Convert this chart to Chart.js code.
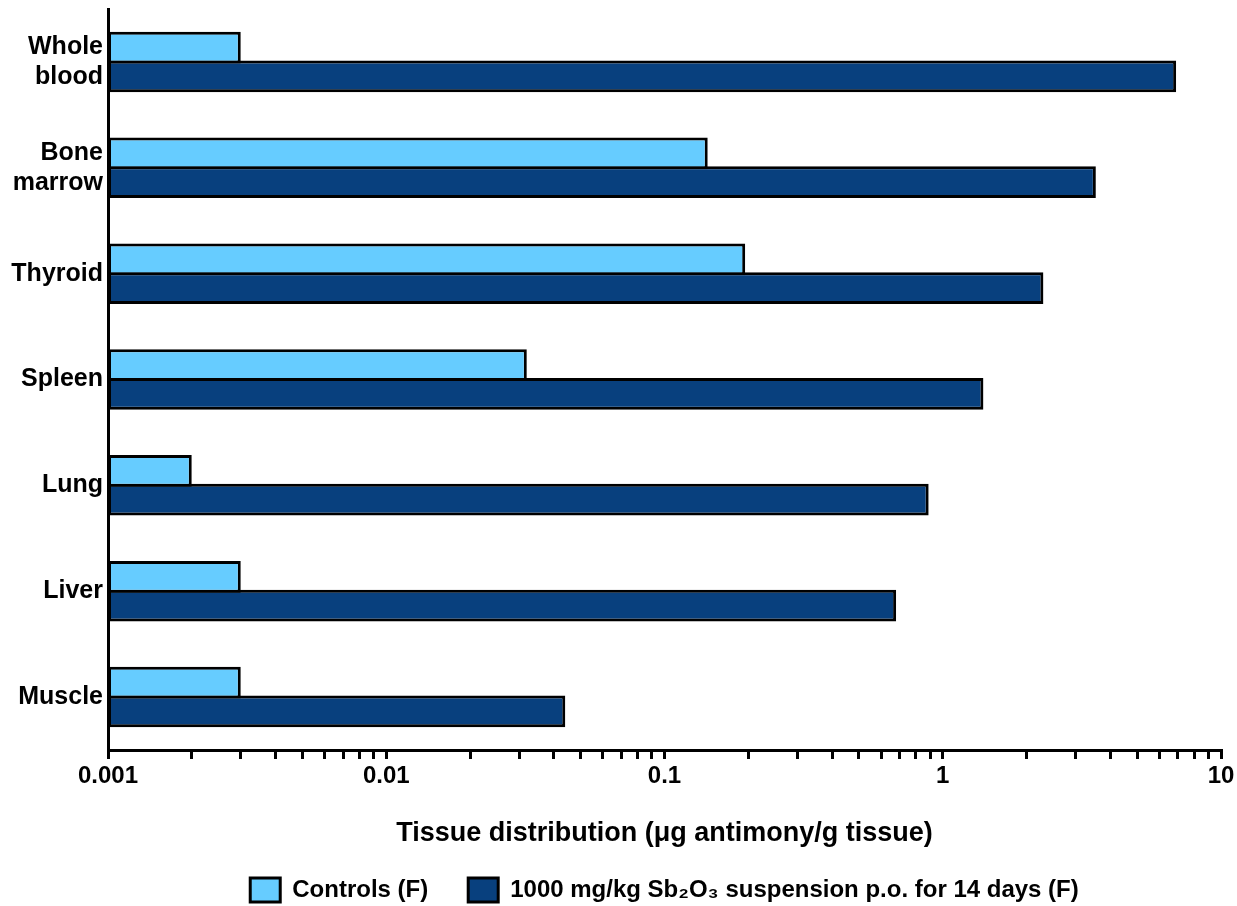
<!DOCTYPE html>
<html>
<head>
<meta charset="utf-8">
<script src="https://cdn.jsdelivr.net/npm/chart.js@4.4.1/dist/chart.umd.min.js"></script>
<style>
  body { margin: 0; background: #fff; }
  #wrap { width: 1237px; height: 906px; }
</style>
</head>
<body>
<div id="wrap"><canvas id="chart" width="1237" height="906"></canvas></div>
<script>
const tissues = [["Whole", "blood"], ["Bone", "marrow"], "Thyroid", "Spleen", "Lung", "Liver", "Muscle"];
const controls = [0.003, 0.143, 0.195, 0.032, 0.002, 0.003, 0.003];
const treated = [6.9, 3.55, 2.3, 1.4, 0.89, 0.68, 0.044];
const seriesNames = ["Controls (F)", "1000 mg/kg Sb\u2082O\u2083 suspension p.o. for 14 days (F)"];
const decadeValues = [0.001, 0.01, 0.1, 1, 10];
const decadeLabels = ["0.001", "0.01", "0.1", "1", "10"];
const axisTitle = "Tissue distribution (\u03bcg antimony/g tissue)";

// tick marks at 1..9 of every decade, labels only on the decades
const tickValues = [];
decadeValues.forEach((d, i) => {
  if (i === decadeValues.length - 1) {
    tickValues.push(d);
    return;
  }
  for (let k = 1; k <= 9; k++) tickValues.push(Number((d * k).toPrecision(6)));
});

Chart.defaults.font.family = "'Liberation Sans', Arial, sans-serif";
Chart.defaults.font.weight = "bold";
Chart.defaults.color = "#000";

const ctx = document.getElementById("chart").getContext("2d");
new Chart(ctx, {
  type: "bar",
  data: {
    labels: tissues,
    datasets: [
      {
        label: seriesNames[0],
        data: controls,
        backgroundColor: "#66CCFF",
        borderColor: "#000",
        borderWidth: 3,
        borderSkipped: false,
      },
      {
        label: seriesNames[1],
        data: treated,
        backgroundColor: "#08407E",
        borderColor: "#000",
        borderWidth: 3,
        borderSkipped: false,
      },
    ],
  },
  options: {
    indexAxis: "y",
    responsive: false,
    animation: false,
    categoryPercentage: 0.543,
    barPercentage: 1.104,
    layout: { padding: { left: 6, right: 16, top: 9, bottom: -6 } },
    plugins: {
      tooltip: { enabled: false },
      legend: {
        position: "bottom",
        fullSize: false,
        labels: {
          boxWidth: 30,
          boxHeight: 24,
          padding: 40,
          font: { size: 24, weight: "bold" },
          color: "#000",
        },
      },
    },
    scales: {
      x: {
        type: "logarithmic",
        min: 0.001,
        max: 10,
        afterBuildTicks: (scale) => {
          scale.ticks = tickValues.map((v) => ({ value: v }));
        },
        afterFit: (scale) => {
          scale.height = 88;
          scale.paddingLeft = 0;
          scale.paddingRight = 0;
        },
        grid: {
          display: true,
          drawOnChartArea: false,
          drawTicks: true,
          tickLength: 9,
          lineWidth: 3,
          color: "#000",
        },
        border: { display: true, color: "#000", width: 3 },
        ticks: {
          autoSkip: false,
          maxRotation: 0,
          padding: 3,
          font: { size: 24, weight: "bold" },
          color: "#000",
          callback: (value) => {
            const i = decadeValues.findIndex((d) => Math.abs(d - value) / d < 1e-6);
            return i >= 0 ? decadeLabels[i] : "";
          },
        },
        title: {
          display: true,
          text: axisTitle,
          font: { size: 27, weight: "bold" },
          color: "#000",
          padding: { top: 0, bottom: -12 },
        },
      },
      y: {
        afterFit: (scale) => {
          scale.width = 102;
          scale.paddingTop = 0;
          scale.paddingBottom = 0;
        },
        grid: { display: false, drawTicks: false },
        border: { display: true, color: "#000", width: 3 },
        ticks: {
          padding: 5,
          font: { size: 25, weight: "bold", lineHeight: 1.2 },
          color: "#000",
        },
      },
    },
  },
});
</script>
</body>
</html>
